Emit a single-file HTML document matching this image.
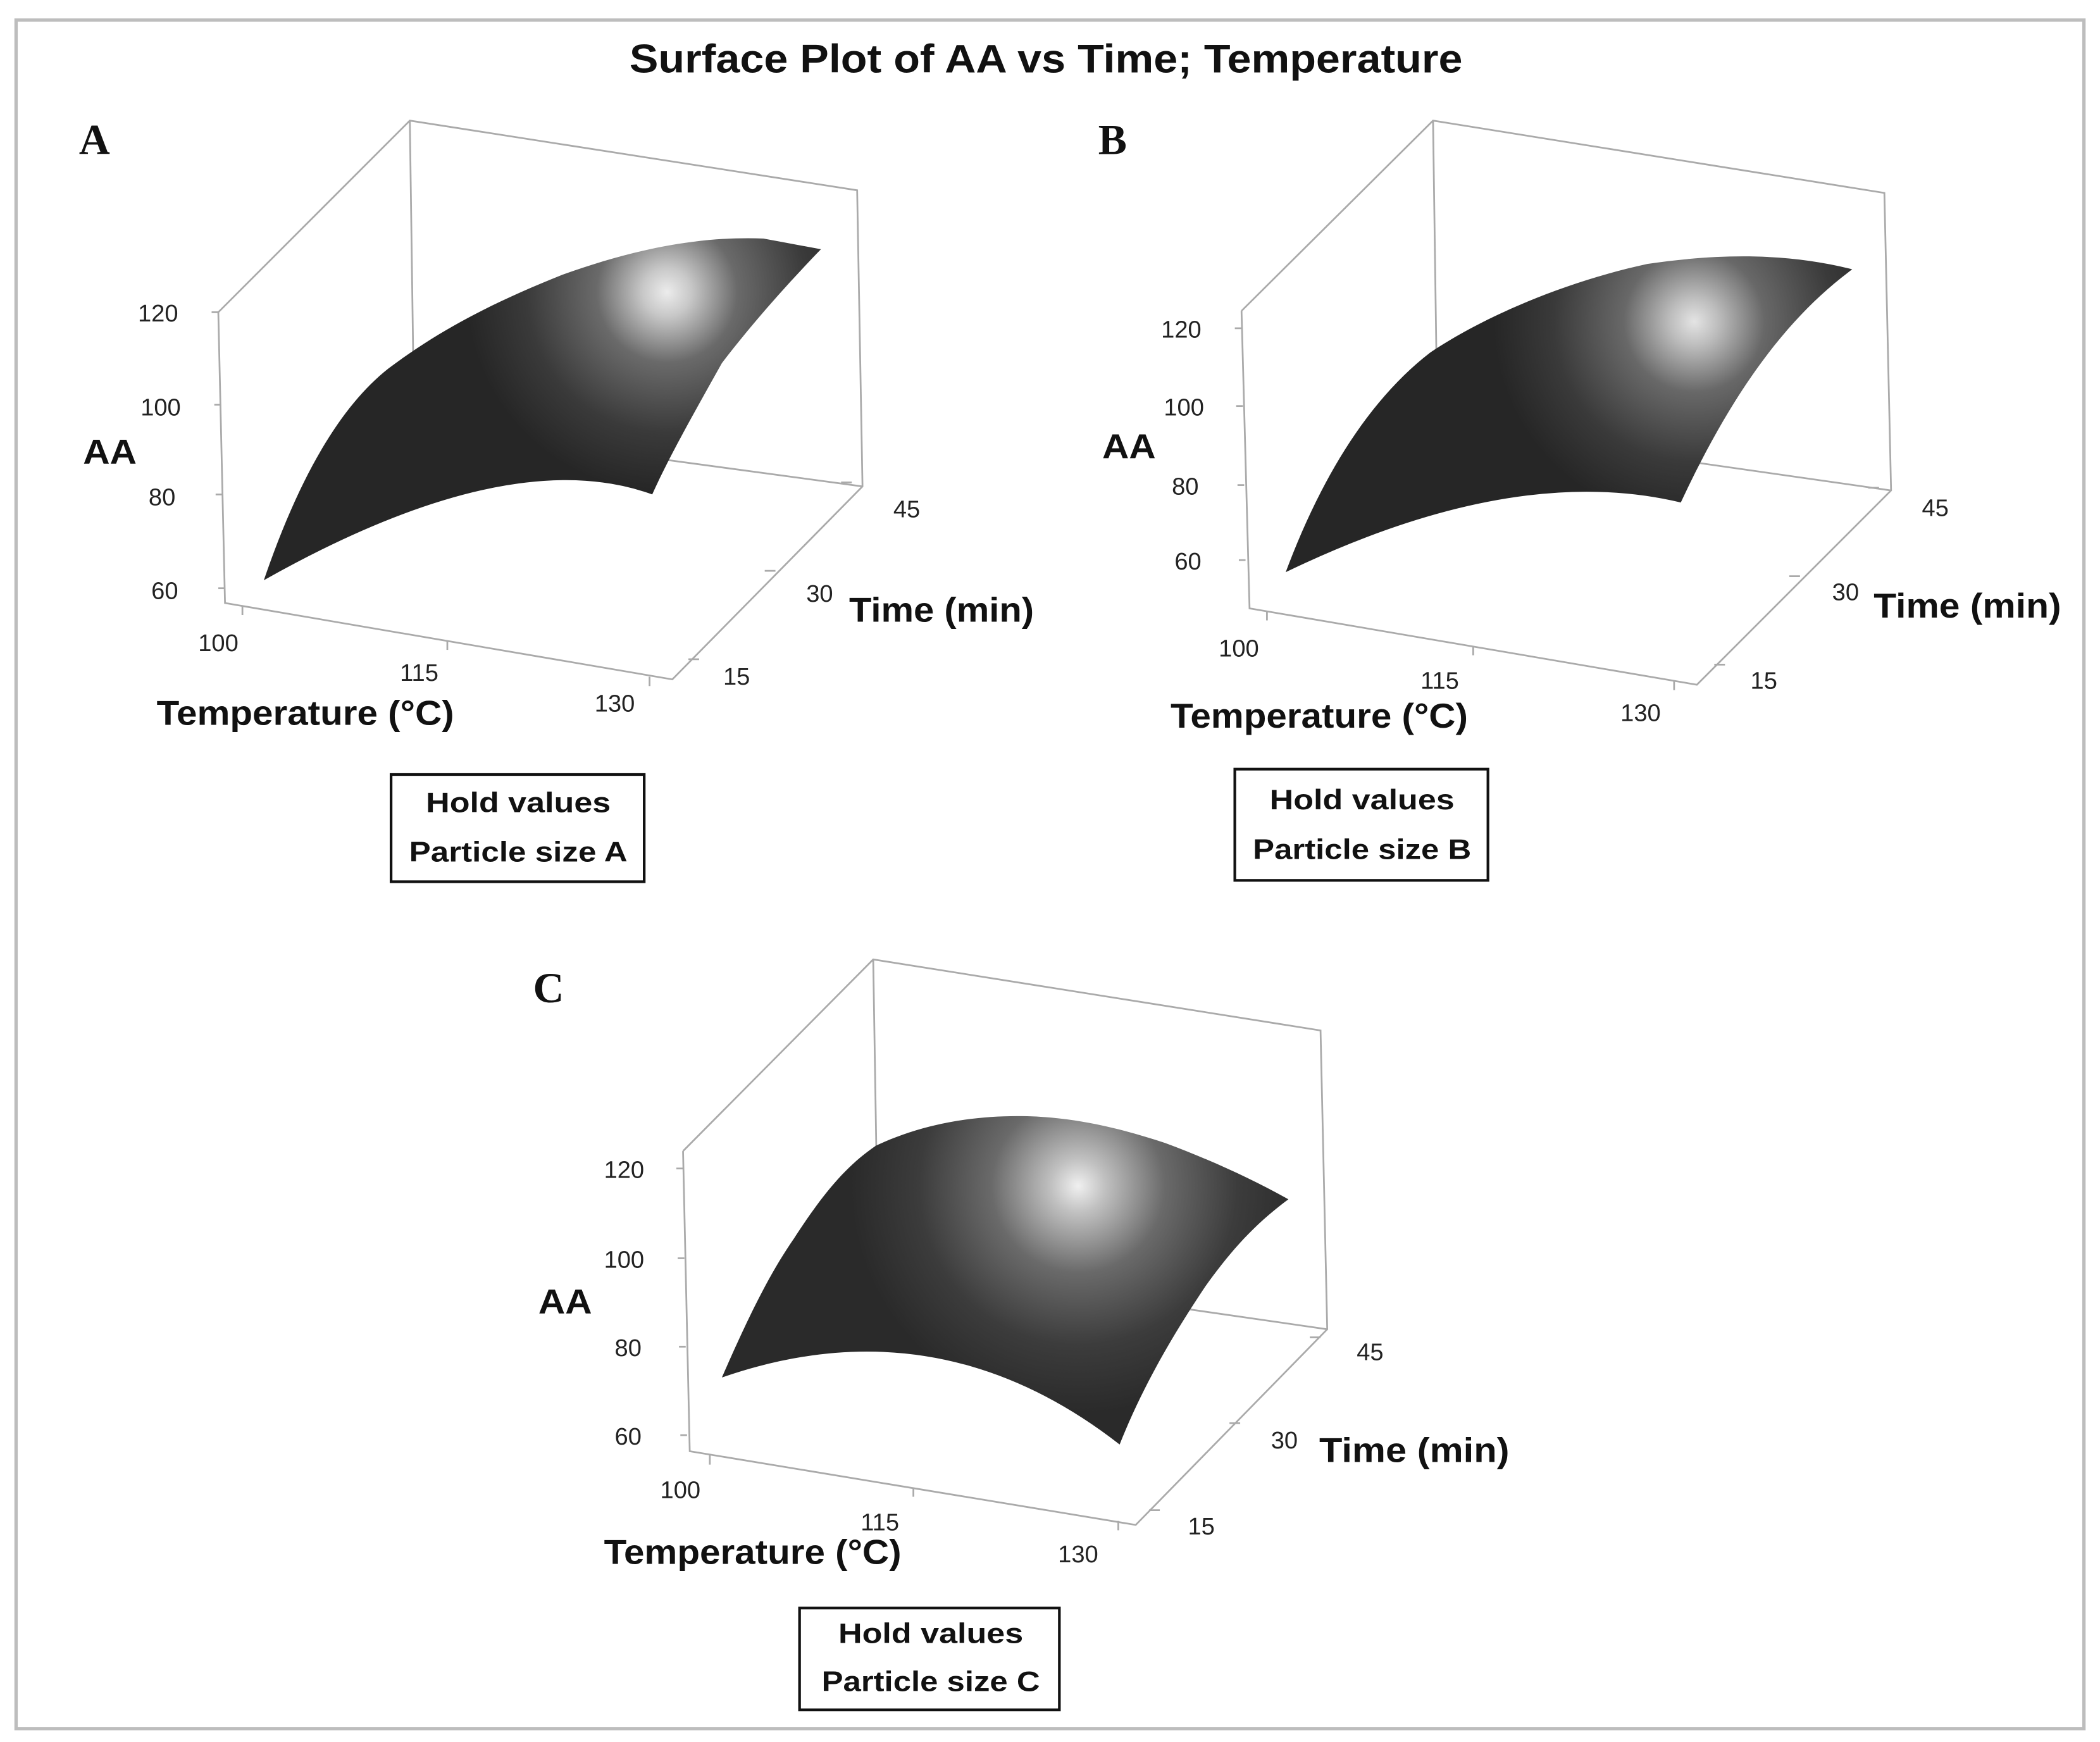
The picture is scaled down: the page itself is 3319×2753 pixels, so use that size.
<!DOCTYPE html>
<html><head><meta charset="utf-8"><style>
html,body{margin:0;padding:0;background:#fff;}
svg{display:block;}
</style></head><body>
<svg width="3319" height="2753" viewBox="0 0 1568 1300" preserveAspectRatio="none" xmlns="http://www.w3.org/2000/svg">
<defs>
<radialGradient id="gA" gradientUnits="userSpaceOnUse" cx="498" cy="218" r="150">
<stop offset="0" stop-color="#ececec"/><stop offset="0.12" stop-color="#c8c8c8"/><stop offset="0.35" stop-color="#6a6a6a"/><stop offset="0.7" stop-color="#3a3a3a"/><stop offset="1" stop-color="#262626"/></radialGradient>
<radialGradient id="gB" gradientUnits="userSpaceOnUse" cx="1265" cy="240" r="150">
<stop offset="0" stop-color="#e4e4e4"/><stop offset="0.12" stop-color="#bdbdbd"/><stop offset="0.35" stop-color="#686868"/><stop offset="0.7" stop-color="#3a3a3a"/><stop offset="1" stop-color="#262626"/></radialGradient>
<radialGradient id="gC" gradientUnits="userSpaceOnUse" cx="805" cy="885" r="170">
<stop offset="0" stop-color="#f0f0f0"/><stop offset="0.12" stop-color="#c0c0c0"/><stop offset="0.38" stop-color="#6a6a6a"/><stop offset="0.7" stop-color="#3c3c3c"/><stop offset="1" stop-color="#2a2a2a"/></radialGradient>
</defs>
<rect x="12" y="15" width="1544" height="1275" fill="#fff" stroke="#bdbdbd" stroke-width="2.5"/>
<text x="781" y="54" text-anchor="middle" font-family="Liberation Sans, sans-serif" font-weight="bold" font-size="30" textLength="622" lengthAdjust="spacingAndGlyphs" fill="#111">Surface Plot of AA vs Time; Temperature</text>

<g stroke="#aaa" stroke-width="1.3" fill="none">
<polyline points="163,233 306,90 640,142 644,363 502,507 168,450 163,233"/>
<line x1="306" y1="90" x2="309" y2="300"/>
<line x1="400" y1="330" x2="644" y2="363"/>
<line x1="158" y1="233" x2="163" y2="233"/><line x1="160" y1="302" x2="165" y2="302"/><line x1="161" y1="369" x2="166" y2="369"/><line x1="163" y1="439" x2="168" y2="439"/>
<line x1="181" y1="452" x2="181" y2="459"/><line x1="334" y1="478" x2="334" y2="485"/><line x1="485" y1="505" x2="485" y2="512"/>
<line x1="514" y1="492" x2="522" y2="492"/><line x1="571" y1="426" x2="579" y2="426"/><line x1="628" y1="360" x2="636" y2="360"/>
<polyline points="927,232 1070,90 1407,144 1412,366 1267,511 933,454 927,232"/>
<line x1="1070" y1="90" x2="1073" y2="300"/>
<line x1="1160" y1="330" x2="1412" y2="366"/>
<line x1="922" y1="245" x2="927" y2="245"/><line x1="923" y1="303" x2="928" y2="303"/><line x1="924" y1="362" x2="929" y2="362"/><line x1="925" y1="418" x2="930" y2="418"/>
<line x1="946" y1="456" x2="946" y2="463"/><line x1="1100" y1="482" x2="1100" y2="489"/><line x1="1250" y1="508" x2="1250" y2="515"/>
<line x1="1280" y1="496" x2="1288" y2="496"/><line x1="1336" y1="430" x2="1344" y2="430"/><line x1="1395" y1="364" x2="1403" y2="364"/>
<polyline points="510,859 652,716 986,769 991,992 848,1138 515,1083 510,859"/>
<line x1="652" y1="716" x2="655" y2="900"/>
<line x1="700" y1="950" x2="991" y2="992"/>
<line x1="505" y1="872" x2="510" y2="872"/><line x1="506" y1="939" x2="511" y2="939"/><line x1="507" y1="1005" x2="512" y2="1005"/><line x1="508" y1="1071" x2="513" y2="1071"/>
<line x1="530" y1="1086" x2="530" y2="1093"/><line x1="682" y1="1110" x2="682" y2="1117"/><line x1="835" y1="1135" x2="835" y2="1142"/>
<line x1="858" y1="1127" x2="866" y2="1127"/><line x1="918" y1="1062" x2="926" y2="1062"/><line x1="978" y1="998" x2="986" y2="998"/>
</g>

<path d="M197,433 C222,360 252,305 290,275 C330,245 370,225 420,205 C470,187 520,176 570,178 L613,186 C580,220 555,250 539,271 C520,305 500,340 487,369 Q380,330 197,433 Z" fill="url(#gA)"/>
<path d="M960,427 C985,360 1020,300 1068,263 C1110,235 1170,210 1230,197 C1290,188 1340,190 1383,201 C1330,240 1290,300 1255,375 Q1130,345 960,427 Z" fill="url(#gB)"/>
<path d="M539,1028 C560,980 575,950 593,924 C615,890 632,870 654,855 C690,838 730,832 767,833 C805,834 840,843 870,853 C905,866 935,880 962,895 C935,915 918,935 900,960 C880,990 855,1030 836,1078 Q700,972 539,1028 Z" fill="url(#gC)"/>

<g font-family="Liberation Serif, serif" font-weight="bold" font-size="32" fill="#111">
<text x="59" y="115">A</text><text x="820" y="115">B</text><text x="398" y="748">C</text>
</g>

<g font-family="Liberation Sans, sans-serif" font-size="18" fill="#222">
<text x="133" y="240" text-anchor="end">120</text><text x="135" y="310" text-anchor="end">100</text><text x="131" y="377" text-anchor="end">80</text><text x="133" y="447" text-anchor="end">60</text>
<text x="163" y="486" text-anchor="middle">100</text><text x="313" y="508" text-anchor="middle">115</text><text x="459" y="531" text-anchor="middle">130</text>
<text x="550" y="511" text-anchor="middle">15</text><text x="612" y="449" text-anchor="middle">30</text><text x="677" y="386" text-anchor="middle">45</text>

<text x="897" y="252" text-anchor="end">120</text><text x="899" y="310" text-anchor="end">100</text><text x="895" y="369" text-anchor="end">80</text><text x="897" y="425" text-anchor="end">60</text>
<text x="925" y="490" text-anchor="middle">100</text><text x="1075" y="514" text-anchor="middle">115</text><text x="1225" y="538" text-anchor="middle">130</text>
<text x="1317" y="514" text-anchor="middle">15</text><text x="1378" y="448" text-anchor="middle">30</text><text x="1445" y="385" text-anchor="middle">45</text>

<text x="481" y="879" text-anchor="end">120</text><text x="481" y="946" text-anchor="end">100</text><text x="479" y="1012" text-anchor="end">80</text><text x="479" y="1078" text-anchor="end">60</text>
<text x="508" y="1118" text-anchor="middle">100</text><text x="657" y="1142" text-anchor="middle">115</text><text x="805" y="1166" text-anchor="middle">130</text>
<text x="897" y="1145" text-anchor="middle">15</text><text x="959" y="1081" text-anchor="middle">30</text><text x="1023" y="1015" text-anchor="middle">45</text>
</g>

<g font-family="Liberation Sans, sans-serif" font-weight="bold" font-size="26" fill="#111">
<text x="62" y="346" textLength="40" lengthAdjust="spacingAndGlyphs">AA</text>
<text x="823" y="342" textLength="40" lengthAdjust="spacingAndGlyphs">AA</text>
<text x="402" y="980" textLength="40" lengthAdjust="spacingAndGlyphs">AA</text>
<text x="634" y="464" textLength="138" lengthAdjust="spacingAndGlyphs">Time (min)</text>
<text x="1399" y="461" textLength="140" lengthAdjust="spacingAndGlyphs">Time (min)</text>
<text x="985" y="1091" textLength="142" lengthAdjust="spacingAndGlyphs">Time (min)</text>
<text x="117" y="541" textLength="222" lengthAdjust="spacingAndGlyphs">Temperature (°C)</text>
<text x="874" y="543" textLength="222" lengthAdjust="spacingAndGlyphs">Temperature (°C)</text>
<text x="451" y="1167" textLength="222" lengthAdjust="spacingAndGlyphs">Temperature (°C)</text>
</g>

<g fill="none" stroke="#111" stroke-width="2">
<rect x="292" y="578" width="189" height="80"/>
<rect x="922" y="574" width="189" height="83"/>
<rect x="597" y="1200" width="194" height="76"/>
</g>
<g font-family="Liberation Sans, sans-serif" font-weight="bold" font-size="21" fill="#111" text-anchor="middle">
<text x="387" y="606" textLength="138" lengthAdjust="spacingAndGlyphs">Hold values</text>
<text x="387" y="643" textLength="163" lengthAdjust="spacingAndGlyphs">Particle size A</text>
<text x="1017" y="604" textLength="138" lengthAdjust="spacingAndGlyphs">Hold values</text>
<text x="1017" y="641" textLength="163" lengthAdjust="spacingAndGlyphs">Particle size B</text>
<text x="695" y="1226" textLength="138" lengthAdjust="spacingAndGlyphs">Hold values</text>
<text x="695" y="1262" textLength="163" lengthAdjust="spacingAndGlyphs">Particle size C</text>
</g>
</svg>
</body></html>
